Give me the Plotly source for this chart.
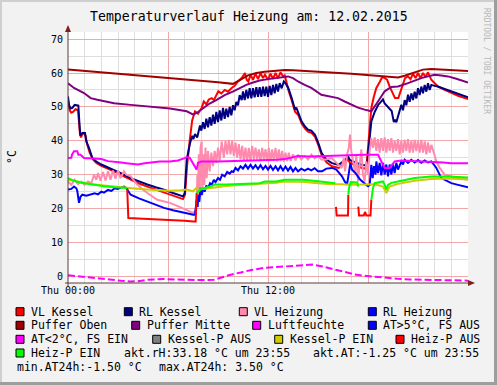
import plotly.graph_objects as go

# ---------------- data (hours of day, value) ----------------
vl_kessel = [(0.00,52.0),(0.10,49.0),(0.20,48.3),(0.30,48.5),(0.45,49.3),(0.60,49.0),(0.72,42.0),(0.78,41.0),(0.90,42.5),(1.05,41.5),(1.15,39.0),(1.30,36.5),(1.50,34.5),(1.70,33.5),(2.00,32.6),(2.40,31.8),(2.76,31.0),(3.20,29.9),(3.76,28.5),(4.26,27.4),(4.76,26.5),(5.26,25.6),(5.76,24.9),(6.30,23.9),(6.90,22.8),(7.02,24.1),(7.15,33.0),(7.32,40.8),(7.45,46.0),(7.62,48.7),(7.80,48.0),(8.02,49.7),(8.15,51.6),(8.30,50.8),(8.45,52.2),(8.62,52.6),(8.75,52.0),(9.02,54.6),(9.20,54.0),(9.40,55.0),(9.60,54.5),(9.82,55.6),(10.00,56.2),(10.20,57.5),(10.42,58.5),(10.62,60.0),(10.72,58.0),(10.82,57.5),(10.95,59.5),(11.10,58.0),(11.25,59.8),(11.40,58.2),(11.55,60.0),(11.70,58.5),(11.82,59.5),(12.00,58.0),(12.15,59.8),(12.30,58.3),(12.45,60.0),(12.60,58.5),(12.75,60.2),(12.90,59.0),(13.00,59.3),(13.10,57.5),(13.22,55.0),(13.42,52.0),(13.62,48.6),(13.82,47.6),(14.02,45.1),(14.22,43.6),(14.40,42.7),(14.60,42.4),(14.82,41.2),(15.02,38.7),(15.22,35.8),(15.52,33.6),(15.84,32.5),(16.24,32.0),(16.64,33.6),(16.80,34.6),(16.90,33.6),(17.24,32.8),(17.64,32.0),(17.90,31.8),(17.96,36.0),(18.05,42.0),(18.20,49.7),(18.35,53.0),(18.50,55.6),(18.72,57.5),(18.85,58.8),(19.02,58.5),(19.15,58.0),(19.30,56.0),(19.42,54.6),(19.62,52.6),(19.82,52.6),(20.02,55.6),(20.22,58.5),(20.40,59.0),(20.55,58.2),(20.70,59.8),(20.85,58.5),(21.00,60.0),(21.15,58.5),(21.30,60.0),(21.45,58.8),(21.60,60.2),(21.80,58.0),(22.00,57.0),(22.20,56.0),(22.60,55.0),(23.00,54.1),(23.40,53.3),(23.82,52.6),(24.00,52.3)]

rl_kessel = [(0.00,53.1),(0.06,50.6),(0.15,49.5),(0.26,49.7),(0.40,50.6),(0.62,50.4),(0.70,44.0),(0.74,41.5),(0.86,42.3),(1.02,42.3),(1.10,39.8),(1.26,37.9),(1.46,34.9),(1.70,33.9),(2.00,33.0),(2.40,32.2),(2.76,31.5),(3.20,30.4),(3.76,29.0),(4.26,28.0),(4.76,27.1),(5.26,26.3),(5.76,25.6),(6.30,24.6),(6.90,23.6),(7.00,24.5),(7.12,34.4),(7.32,39.3),(7.45,41.5),(7.52,40.5),(7.62,42.0),(7.75,41.0),(7.92,44.5),(8.00,43.0),(8.10,45.5),(8.20,43.5),(8.30,46.5),(8.40,44.0),(8.50,47.0),(8.60,44.5),(8.70,47.7),(8.80,45.0),(8.90,48.5),(9.00,45.5),(9.10,49.0),(9.20,46.0),(9.30,49.7),(9.40,46.5),(9.50,49.5),(9.60,47.0),(9.70,50.0),(9.80,47.5),(9.90,50.5),(10.00,49.0),(10.10,51.5),(10.20,50.5),(10.30,53.5),(10.42,52.0),(10.50,54.6),(10.60,52.0),(10.70,55.0),(10.80,52.5),(10.90,55.5),(11.00,52.5),(11.10,55.5),(11.20,52.8),(11.30,55.8),(11.40,53.0),(11.50,55.8),(11.60,53.0),(11.70,56.0),(11.80,53.2),(11.90,56.0),(12.00,53.0),(12.10,56.2),(12.20,53.5),(12.30,56.5),(12.40,54.0),(12.50,56.8),(12.60,54.5),(12.70,57.0),(12.82,55.5),(12.95,57.5),(13.05,57.0),(13.22,55.6),(13.42,52.6),(13.62,49.2),(13.70,49.8),(13.82,48.2),(14.02,45.7),(14.22,44.2),(14.40,43.3),(14.60,43.0),(14.82,41.8),(15.02,39.3),(15.22,36.4),(15.52,34.4),(15.84,33.4),(16.24,32.9),(16.64,34.4),(16.80,35.4),(16.90,34.4),(17.24,33.6),(17.64,32.9),(17.94,32.7),(18.02,36.0),(18.10,40.8),(18.20,45.7),(18.40,48.5),(18.60,50.5),(18.80,51.6),(18.90,52.2),(19.00,51.0),(19.20,49.8),(19.42,48.8),(19.55,45.5),(19.62,46.2),(19.70,45.5),(19.82,47.7),(19.90,48.5),(20.00,50.6),(20.10,49.0),(20.20,52.0),(20.30,50.5),(20.40,53.6),(20.50,51.5),(20.60,54.0),(20.70,52.0),(20.80,54.5),(20.90,52.5),(21.00,55.5),(21.10,53.5),(21.20,56.0),(21.30,54.0),(21.40,56.5),(21.50,54.5),(21.60,57.0),(21.70,55.0),(21.80,56.5),(22.00,56.2),(22.20,56.0),(22.60,55.3),(23.00,54.6),(23.40,53.8),(23.80,53.1),(24.00,52.8)]

vl_heizung = [(0.00,28.0),(0.20,27.0),(0.40,28.5),(0.60,27.2),(0.80,28.0),(1.00,27.0),(1.20,28.0),(1.40,27.5),(1.56,30.0),(1.70,28.5),(1.80,30.5),(1.95,28.2),(2.10,30.8),(2.25,28.3),(2.40,31.0),(2.55,28.5),(2.70,31.2),(2.85,28.8),(3.00,31.2),(3.15,29.0),(3.36,31.0),(3.50,30.0),(3.76,29.5),(4.16,27.1),(4.50,25.6),(4.76,24.6),(5.36,22.6),(6.12,21.7),(6.80,20.3),(7.50,18.7),(7.62,19.2),(7.72,21.1),(7.76,30.0),(7.80,24.0),(7.85,36.0),(7.90,23.5),(7.95,38.0),(8.02,39.8),(8.06,24.0),(8.12,36.0),(8.18,27.0),(8.25,38.0),(8.32,29.0),(8.40,37.0),(8.50,31.0),(8.60,36.5),(8.70,32.5),(8.80,37.0),(8.90,33.5),(9.00,38.0),(9.10,34.0),(9.22,39.8),(9.35,35.0),(9.45,40.0),(9.55,36.0),(9.65,40.3),(9.75,36.0),(9.85,40.0),(9.95,35.5),(10.05,39.5),(10.15,35.0),(10.25,39.0),(10.35,34.5),(10.45,38.5),(10.55,34.0),(10.65,38.0),(10.75,34.0),(10.85,37.9),(10.95,34.0),(11.05,38.5),(11.15,34.5),(11.25,38.0),(11.35,34.5),(11.45,37.5),(11.55,34.0),(11.65,37.9),(11.75,34.5),(11.85,37.5),(11.95,34.0),(12.05,37.9),(12.15,34.0),(12.25,37.5),(12.35,34.0),(12.45,37.9),(12.55,33.9),(12.65,37.5),(12.75,34.0),(12.85,37.0),(12.95,33.9),(13.05,36.5),(13.15,34.0),(13.25,36.5),(13.35,34.0),(13.50,36.0),(13.65,34.2),(13.80,35.9),(14.00,34.5),(14.20,35.5),(14.40,34.5),(14.60,35.9),(14.80,34.8),(15.00,35.5),(15.20,34.5),(15.50,34.5),(15.82,34.9),(16.10,33.5),(16.42,32.0),(16.55,35.0),(16.62,31.0),(16.75,36.0),(16.85,38.0),(16.92,41.8),(17.00,36.9),(17.10,34.0),(17.22,31.0),(17.30,36.0),(17.40,28.0),(17.50,33.0),(17.60,37.5),(17.70,30.0),(17.80,28.0),(17.90,33.9),(18.00,30.0),(18.10,37.0),(18.20,40.8),(18.30,37.9),(18.40,41.0),(18.50,37.0),(18.60,40.5),(18.70,36.5),(18.80,40.8),(18.90,37.0),(19.00,41.0),(19.10,36.5),(19.20,40.5),(19.30,37.0),(19.40,40.8),(19.50,36.5),(19.60,40.0),(19.70,37.0),(19.80,40.5),(19.90,36.0),(20.00,40.0),(20.10,36.5),(20.20,40.3),(20.30,37.0),(20.40,40.5),(20.50,36.5),(20.60,40.0),(20.70,36.5),(20.80,40.3),(20.90,37.0),(21.00,40.0),(21.10,36.5),(21.20,40.3),(21.30,36.5),(21.40,39.8),(21.50,36.0),(21.60,39.5),(21.70,36.5),(21.80,38.8),(21.95,36.5),(22.10,33.9),(22.30,32.0),(22.60,30.0),(23.00,29.5),(23.40,29.0),(24.00,28.5)]

rl_heizung = [(0.00,25.6),(0.20,25.8),(0.36,26.5),(0.50,26.0),(0.56,25.1),(0.62,22.5),(0.66,21.7),(0.75,23.5),(0.86,24.1),(1.10,23.8),(1.36,24.1),(1.60,24.5),(1.80,24.2),(2.00,25.0),(2.16,24.7),(2.40,25.5),(2.60,25.2),(2.80,26.0),(2.96,25.8),(3.20,26.3),(3.36,26.5),(3.50,26.0),(3.76,24.1),(4.26,23.0),(4.76,22.1),(5.26,21.0),(5.76,20.2),(6.30,19.5),(6.90,18.8),(7.52,18.2),(7.62,18.2),(7.72,22.6),(7.78,20.5),(7.82,24.1),(7.88,22.0),(7.95,26.1),(8.02,24.0),(8.10,26.0),(8.20,25.0),(8.30,26.8),(8.40,26.0),(8.52,27.5),(8.62,27.0),(8.75,28.5),(8.85,27.8),(9.00,29.0),(9.12,28.5),(9.25,30.0),(9.40,29.5),(9.55,30.8),(9.70,30.3),(9.82,31.0),(9.92,30.8),(10.05,32.0),(10.20,31.3),(10.35,32.5),(10.50,31.8),(10.65,32.9),(10.80,31.8),(10.95,32.9),(11.10,31.8),(11.25,32.8),(11.40,31.7),(11.55,32.8),(11.70,31.6),(11.85,32.6),(12.00,31.5),(12.15,32.6),(12.30,31.4),(12.45,32.5),(12.60,31.3),(12.75,32.5),(12.90,31.3),(13.05,32.4),(13.20,31.2),(13.35,32.3),(13.50,31.0),(13.65,32.0),(13.80,31.0),(14.00,31.8),(14.20,31.2),(14.40,31.8),(14.60,31.3),(14.80,31.9),(15.00,31.0),(15.24,31.0),(15.50,31.8),(15.84,32.0),(16.10,31.5),(16.44,29.5),(16.60,28.0),(16.74,27.1),(16.82,29.5),(16.94,33.4),(17.04,31.5),(17.24,30.5),(17.54,28.5),(17.84,27.1),(18.00,26.6),(18.10,27.0),(18.20,32.9),(18.28,29.0),(18.36,32.5),(18.45,30.0),(18.50,33.9),(18.60,30.5),(18.70,33.5),(18.80,29.8),(18.90,33.5),(19.00,30.0),(19.10,33.0),(19.20,29.5),(19.30,33.0),(19.40,30.0),(19.50,33.0),(19.60,30.5),(19.70,33.5),(19.80,31.5),(20.00,33.9),(20.10,33.0),(20.20,34.4),(20.40,33.5),(20.60,34.4),(20.80,33.6),(21.00,34.3),(21.20,33.5),(21.40,34.2),(21.60,33.6),(21.80,33.9),(21.95,33.0),(22.10,32.0),(22.40,29.0),(23.00,27.5),(23.40,27.0),(23.80,26.5),(24.00,26.3)]

puffer_oben = [(0,61.0),(1,60.6),(2,60.2),(3,59.8),(4,59.4),(5,59.0),(6,58.6),(7,58.2),(8,57.8),(9,57.3),(9.9,56.8),(10.3,58.0),(10.8,59.3),(11.3,60.0),(11.8,60.4),(12.5,60.7),(13.0,60.9),(13.5,60.8),(14,60.7),(15,60.4),(16,60.1),(17,59.8),(18,59.4),(19,59.0),(19.8,58.7),(20.2,59.2),(20.8,60.3),(21.3,61.0),(21.8,61.2),(22.5,61.0),(23,60.9),(24,60.6)]

puffer_mitte = [(0,57.0),(0.36,55.6),(0.96,54.1),(1.36,52.6),(1.76,52.1),(2.76,51.1),(3.76,50.6),(4.76,50.1),(6.12,49.5),(7.12,48.7),(7.52,47.7),(7.8,48.5),(8.12,49.7),(8.5,51.0),(8.92,52.1),(9.4,53.5),(9.92,54.6),(10.3,55.6),(10.7,56.5),(11.1,57.2),(11.5,57.8),(12.0,58.2),(12.5,58.5),(13.2,59.0),(13.5,58.5),(13.8,57.5),(14.2,56.5),(14.6,55.6),(15.2,53.6),(15.7,53.0),(16.2,52.6),(16.6,51.6),(17.0,50.6),(17.4,49.8),(17.8,49.2),(18.2,48.7),(18.6,51.6),(19.0,54.6),(19.4,55.9),(19.8,56.0),(20.4,57.0),(20.8,57.8),(21.2,58.5),(21.6,59.0),(22.0,59.5),(22.4,59.3),(22.8,59.0),(23.3,58.3),(23.8,57.5),(24.0,57.2)]

luftfeuchte = [(0,34.9),(0.2,35.0),(0.24,35.9),(0.36,36.9),(0.56,36.9),(0.62,35.9),(0.75,35.9),(0.96,34.9),(1.5,34.8),(2.0,34.6),(2.4,34.0),(2.76,33.9),(3.2,33.6),(3.5,33.4),(4.0,33.2),(4.2,33.0),(4.6,33.4),(5.0,33.7),(5.5,33.9),(6.1,33.9),(6.6,34.2),(7.0,34.9),(7.12,35.2),(7.3,35.0),(7.5,33.5),(7.62,32.5),(7.72,31.5),(7.8,33.5),(8.0,33.9),(9.0,33.9),(10.0,34.0),(11.0,34.3),(12.0,34.4),(12.5,34.4),(13.0,34.6),(13.8,35.5),(14.5,35.4),(15.5,35.6),(16.5,35.8),(17.2,35.9),(17.8,35.9),(18.6,35.9),(18.8,33.9),(19.0,32.0),(19.3,32.0),(19.6,33.9),(20.0,34.2),(21.0,34.0),(21.8,33.9),(22.5,33.6),(23.0,33.4),(24.0,33.4)]

aussen_temp = [(0,0.3),(0.5,0.1),(1.0,-0.2),(1.76,-0.5),(2.5,-0.9),(3.2,-1.3),(3.76,-1.5),(4.2,-1.4),(4.8,-1.0),(5.76,-0.8),(6.5,-0.9),(7.76,-1.1),(8.76,-1.0),(9.2,-0.3),(9.76,0.5),(10.5,1.3),(11.0,1.9),(11.76,2.5),(12.5,2.8),(13.0,3.0),(13.76,3.2),(14.3,3.4),(14.66,3.5),(15.2,3.0),(15.76,2.3),(16.5,1.3),(17.2,0.6),(17.76,0.2),(18.5,-0.2),(19.0,-0.4),(19.76,-0.7),(20.5,-0.9),(21.76,-1.0),(22.5,-1.1),(23.0,-1.2),(23.76,-1.3),(24.0,-1.25)]

kessel_p_ein = [(0,28.5),(0.5,28.0),(1.0,27.6),(1.5,27.2),(2.0,26.9),(2.5,26.6),(3.0,26.3),(3.5,26.1),(4.0,25.9),(4.76,25.6),(5.5,25.4),(6.1,25.3),(6.8,25.4),(7.1,25.6),(7.5,25.1),(7.7,26.1),(7.8,25.6),(8.5,26.1),(9.5,26.7),(10.5,27.0),(11.5,27.2),(12.5,27.6),(13.0,28.0),(14.0,27.9),(15.0,27.5),(15.8,27.2),(16.4,27.2),(17.0,27.0),(17.8,27.1),(18.4,27.2),(18.9,26.5),(19.1,24.6),(19.3,26.5),(19.8,27.3),(20.8,28.2),(21.8,28.7),(22.8,28.9),(24.0,28.6)]

# None = pump state changes (gap)
heiz_p_ein = [(0,29.0),(0.36,28.2),(0.8,27.6),(1.36,27.1),(2.16,26.6),(2.8,26.3),(3.36,26.1),(3.55,26.1),(None,None),
              (7.72,24.6),(7.82,25.1),(8.0,25.8),(8.52,26.5),(8.82,27.1),(9.52,27.1),(10.5,27.3),(11.5,27.5),(11.82,28.0),(12.5,28.0),(13.0,28.5),(14.12,28.5),(15.0,28.1),(15.8,27.6),(16.04,27.5),(None,None),
              (16.82,24.1),(16.86,26.0),(16.96,27.8),(17.36,27.7),(17.40,26.5),(None,None),
              (18.2,22.6),(18.3,26.1),(18.4,27.5),(18.9,28.0),(19.0,27.0),(19.1,25.6),(19.2,27.0),(19.4,27.6),(19.8,28.0),(20.8,29.0),(21.8,29.5),(22.8,29.5),(24.0,29.2)]

heiz_p_aus = [(3.55,26.1),(3.62,17.2),(4.5,17.0),(5.5,16.8),(6.12,16.7),(7.0,16.4),(7.52,16.2),(7.66,16.2),(7.72,24.6),(None,None),
              (16.08,20.5),(16.12,18.0),(16.80,18.0),(16.82,24.1),(None,None),
              (17.42,20.6),(17.46,18.0),(17.75,18.0),(17.82,19.0),(17.90,18.0),(18.15,18.0),(18.20,22.6)]

legend_labels = ["VL Kessel", "RL Kessel", "VL Heizung", "RL Heizung",
                 "Puffer Oben", "Puffer Mitte", "Luftfeuchte", "AT>5°C, FS AUS",
                 "AT<2°C, FS EIN", "Kessel-P AUS", "Kessel-P EIN", "Heiz-P AUS",
                 "Heiz-P EIN"]
legend_colors = ["#FF0000", "#000080", "#FF8AAE", "#0000FF",
                 "#A00000", "#800080", "#FF00FF", "#0000FF",
                 "#FF00FF", "#808080", "#CCCC00", "#FF0000",
                 "#00FF00"]
info_texts = ["akt.rH:33.18 °C um 23:55", "akt.AT:-1.25 °C um 23:55",
              "min.AT24h:-1.50 °C", "max.AT24h: 3.50 °C"]
title_text = "Temperaturverlauf Heizung am: 12.02.2015"
tick_vals = [0, 6, 12, 18, 24]
tick_text = ["Thu 00:00", "", "Thu 12:00", "", ""]

# ---------------- figure ----------------
W, H = 497, 385
L, R, T, B = 68, 29, 32, 102
PW, PH = W - L - R, H - T - B
MONO = "DejaVu Sans Mono"


def px(x):
    return (x - L) / PW


def py(y):
    return (H - B - y) / PH


def xy(series):
    return [p[0] for p in series], [p[1] for p in series]


fig = go.Figure()

traces = [
    (vl_kessel, "#FF0000", 2, None),
    (rl_kessel, "#000080", 2, None),
    (vl_heizung, "#FF8AAE", 2, None),
    (rl_heizung, "#0000FF", 2, None),
    (puffer_oben, "#A00000", 2, None),
    (puffer_mitte, "#800080", 2, None),
    (luftfeuchte, "#FF00FF", 2, None),
    (aussen_temp, "#FF00FF", 2, "7px,3px"),
    (kessel_p_ein, "#CCCC00", 2, None),
    (heiz_p_aus, "#FF0000", 2, None),
    (heiz_p_ein, "#00FF00", 2, None),
]
for s, c, w, d in traces:
    x, y = xy(s)
    fig.add_trace(go.Scatter(x=x, y=y, mode="lines", line=dict(color=c, width=w, dash=d),
                             connectgaps=False, hoverinfo="skip", showlegend=False))

shapes = []
annotations = []

# axis arrows and extended axis lines
axis_col = "#5A3A3A"
arrow_col = "#801F1F"
shapes.append(dict(type="line", xref="paper", yref="paper", x0=0, x1=0, y0=py(286), y1=py(28),
                   line=dict(color=axis_col, width=1)))
shapes.append(dict(type="line", xref="paper", yref="paper", x0=px(65), x1=px(472), y0=0, y1=0,
                   line=dict(color=axis_col, width=1)))
shapes.append(dict(type="path", xref="paper", yref="paper",
                   path=f"M {px(65)} {py(32)} L {px(71)} {py(32)} L {px(68)} {py(25)} Z",
                   fillcolor=arrow_col, line=dict(color=arrow_col, width=0)))
shapes.append(dict(type="path", xref="paper", yref="paper",
                   path=f"M {px(468)} {py(280)} L {px(468)} {py(286)} L {px(475)} {py(283)} Z",
                   fillcolor=arrow_col, line=dict(color=arrow_col, width=0)))

# outer frame shading
shapes.append(dict(type="rect", xref="paper", yref="paper", x0=px(0), x1=px(2), y0=py(385), y1=py(0),
                   fillcolor="#CFCFCF", line=dict(width=0), layer="below"))
shapes.append(dict(type="rect", xref="paper", yref="paper", x0=px(0), x1=px(497), y0=py(2), y1=py(0),
                   fillcolor="#CFCFCF", line=dict(width=0), layer="below"))
shapes.append(dict(type="rect", xref="paper", yref="paper", x0=px(494), x1=px(497), y0=py(385), y1=py(0),
                   fillcolor="#9E9E9E", line=dict(width=0), layer="below"))
shapes.append(dict(type="rect", xref="paper", yref="paper", x0=px(0), x1=px(497), y0=py(385), y1=py(382),
                   fillcolor="#9E9E9E", line=dict(width=0), layer="below"))

# legend layout
rows_y = [311.7, 325.3, 339.3, 353.0]
text_x = [[30, 138.3, 253.3, 382.3],
          [30, 145.7, 266.7, 382.3],
          [30, 166.7, 288.7, 410.0],
          [30]]
k = 0
for r, xs in enumerate(text_x):
    for tx in xs:
        lab, col = legend_labels[k], legend_colors[k]
        sx = tx - 14
        shapes.append(dict(type="rect", xref="paper", yref="paper",
                           x0=px(sx), x1=px(sx + 8), y0=py(rows_y[r] + 4), y1=py(rows_y[r] - 4),
                           fillcolor=col, line=dict(color="#000000", width=1)))
        annotations.append(dict(x=px(tx - 1), y=py(rows_y[r]), xref="paper", yref="paper",
                                text=lab, showarrow=False, xanchor="left", yanchor="middle",
                                font=dict(family=MONO, size=11.5, color="#000")))
        k += 1

info_pos = [(122.3, 353.0), (311.3, 353.0), (15, 367.3), (157.3, 367.3)]
for t, (tx, ty) in zip(info_texts, info_pos):
    annotations.append(dict(x=px(tx), y=py(ty), xref="paper", yref="paper", text=t,
                            showarrow=False, xanchor="left", yanchor="middle",
                            font=dict(family=MONO, size=11.5, color="#000")))

# title, unit, watermark
annotations.append(dict(x=px(249), y=py(16), xref="paper", yref="paper", text=title_text,
                        showarrow=False, xanchor="center", yanchor="middle",
                        font=dict(family=MONO, size=13.2, color="#000")))
annotations.append(dict(x=px(12), y=py(157), xref="paper", yref="paper", text="°C",
                        showarrow=False, xanchor="center", yanchor="middle", textangle=-90,
                        font=dict(family=MONO, size=11.5, color="#000")))
annotations.append(dict(x=px(487), y=py(61), xref="paper", yref="paper",
                        text="RRDTOOL / TOBI OETIKER",
                        showarrow=False, xanchor="center", yanchor="middle", textangle=90,
                        font=dict(family=MONO, size=8, color="#B8B8B8")))

fig.update_layout(
    width=W, height=H,
    margin=dict(l=L, r=R, t=T, b=B, pad=0),
    paper_bgcolor="#F2F2F2", plot_bgcolor="#FFFFFF",
    showlegend=False,
    shapes=shapes, annotations=annotations,
    xaxis=dict(range=[0, 24], tickmode="array", tickvals=tick_vals, ticktext=tick_text,
               showgrid=True, gridcolor="#F2A8A8", gridwidth=1, zeroline=False,
               showline=False, ticks="", fixedrange=True,
               tickfont=dict(family=MONO, size=10, color="#000"),
               minor=dict(dtick=1, tick0=0, showgrid=True, gridcolor="#DEDEDE", gridwidth=1)),
    yaxis=dict(range=[-1.95, 72.1], tickmode="linear", tick0=0, dtick=10,
               showgrid=True, gridcolor="#F2A8A8", gridwidth=1, zeroline=False,
               showline=False, ticks="", fixedrange=True, ticklabelstandoff=4,
               tickfont=dict(family=MONO, size=10, color="#000"),
               minor=dict(dtick=5, tick0=0, showgrid=True, gridcolor="#DEDEDE", gridwidth=1)),
)

fig.write_html("out.html", config={"displayModeBar": False},
               post_script="document.body.style.margin='0px';document.body.style.overflow='hidden';")
